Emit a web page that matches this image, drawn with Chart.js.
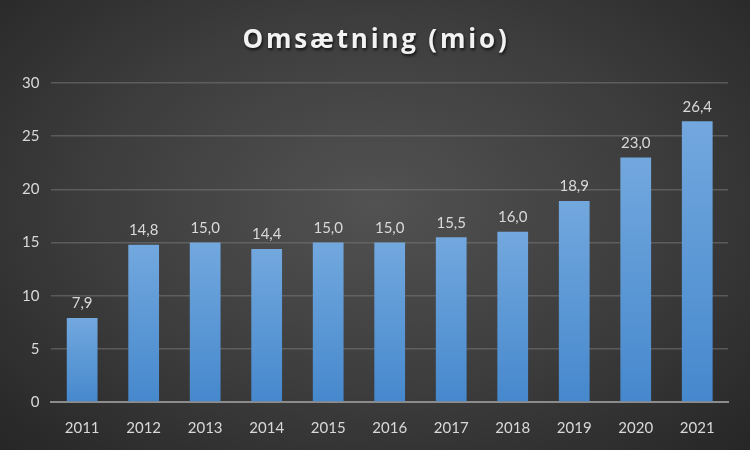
<!DOCTYPE html>
<html>
<head>
<meta charset="utf-8">
<script src="https://cdn.jsdelivr.net/npm/chart.js@4.4.1/dist/chart.umd.min.js"></script>
<style>
  html, body { margin: 0; padding: 0; }
  body {
    width: 750px; height: 450px; overflow: hidden;
    background: radial-gradient(ellipse at 50% 45%, #525252 0%, #3c3c3c 55%, #262626 100%);
  }
  #wrap { width: 750px; height: 450px; position: relative; }
</style>
</head>
<body>
<div id="wrap"><canvas id="c"></canvas></div>
<script>
const chartTitle = 'Omsætning (mio)'
const years = ['2011', '2012', '2013', '2014', '2015', '2016', '2017', '2018', '2019', '2020', '2021']
const revenue = [7.9, 14.8, 15.0, 14.4, 15.0, 15.0, 15.5, 16.0, 18.9, 23.0, 26.4]

const fmt = v => v.toFixed(1).replace('.', ',')

// labels above each bar, placed from the bar elements
const valueLabels = {
  id: 'valueLabels',
  afterDatasetsDraw(chart) {
    const ctx = chart.ctx
    const meta = chart.getDatasetMeta(0)
    ctx.save()
    ctx.font = '15px Lato'
    ctx.fillStyle = '#d9d9d9'
    ctx.textAlign = 'center'
    ctx.textBaseline = 'bottom'
    meta.data.forEach((bar, i) => {
      ctx.fillText(fmt(revenue[i]), bar.x, bar.y - 7)
    })
    ctx.restore()
  }
}

// spaced-out title with a soft shadow
const spacedTitle = {
  id: 'spacedTitle',
  afterDraw(chart) {
    const ctx = chart.ctx
    ctx.save()
    ctx.font = 'bold 26px "Open Sans"'
    ctx.letterSpacing = '2.8px'
    ctx.fillStyle = '#f2f2f2'
    ctx.textAlign = 'center'
    ctx.textBaseline = 'middle'
    ctx.shadowColor = 'rgba(0,0,0,0.7)'
    ctx.shadowOffsetX = 1
    ctx.shadowOffsetY = 2
    ctx.shadowBlur = 3
    ctx.fillText(chartTitle, chart.width / 2 + 1, 41)
    ctx.restore()
  }
}

new Chart(document.getElementById('c').getContext('2d'), {
  type: 'bar',
  data: {
    labels: years,
    datasets: [{
      data: revenue,
      backgroundColor: (context) => {
        const chart = context.chart
        const area = chart.chartArea
        if (!area || context.parsed == null) return '#5b9bd5'
        const top = chart.scales.y.getPixelForValue(context.parsed.y)
        const g = chart.ctx.createLinearGradient(0, top, 0, area.bottom)
        g.addColorStop(0, '#72a8de')
        g.addColorStop(1, '#4688cd')
        return g
      },
      borderWidth: 0,
      categoryPercentage: 1,
      barPercentage: 0.5
    }]
  },
  options: {
    responsive: true,
    maintainAspectRatio: false,
    animation: false,
    layout: { padding: { left: 10, right: 22, bottom: -4, top: 83 } },
    plugins: {
      legend: { display: false },
      tooltip: { enabled: false },
      title: { display: false }
    },
    scales: {
      x: {
        grid: { display: false, drawTicks: false },
        border: { color: '#8c8c8c', width: 2 },
        ticks: { color: '#d9d9d9', font: { family: 'Lato', size: 15 }, padding: 17 }
      },
      y: {
        min: 0,
        max: 30,
        ticks: { stepSize: 5, color: '#d9d9d9', font: { family: 'Lato', size: 15 }, padding: 12 },
        grid: { color: 'rgba(120,120,120,0.55)', lineWidth: 1.5, drawTicks: false },
        border: { display: false }
      }
    }
  },
  plugins: [valueLabels, spacedTitle]
})
</script>
</body>
</html>
